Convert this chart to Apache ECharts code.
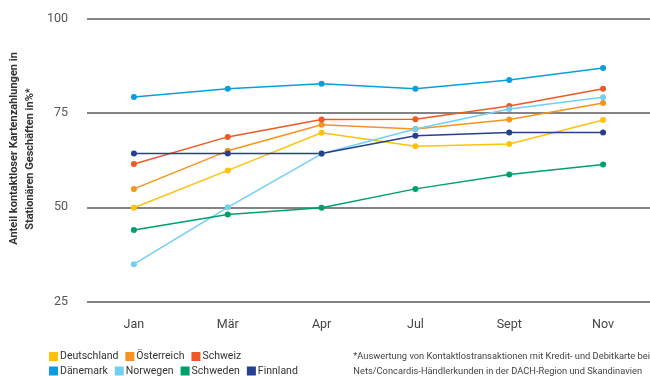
<!DOCTYPE html>
<html>
<head>
<meta charset="utf-8">
<script src="https://cdn.jsdelivr.net/npm/echarts@6/dist/echarts.min.js"></script>
<style>
  html, body { margin: 0; padding: 0; background: #fff; }
  #chart { width: 650px; height: 376px; }
</style>
</head>
<body>
<div id="chart"></div>
<script>
const months = ['Jan', 'Mär', 'Apr', 'Jul', 'Sept', 'Nov']
const yTicks = [25, 50, 75, 100]

const deutschland = [49.9, 59.8, 69.8, 66.2, 66.8, 73.2]
const oesterreich = [54.9, 65.0, 71.9, 70.8, 73.3, 77.7]
const schweiz = [61.5, 68.7, 73.3, 73.4, 76.9, 81.5]
const daenemark = [79.3, 81.5, 82.8, 81.5, 83.8, 87.0]
const norwegen = [34.9, 50.0, 64.2, 70.8, 76.1, 79.2]
const schweden = [44.0, 48.1, 49.9, 54.9, 58.7, 61.4]
const finnland = [64.3, 64.3, 64.3, 69.0, 69.9, 69.9]

const seriesNames = ['Deutschland', 'Österreich', 'Schweiz', 'Dänemark', 'Norwegen', 'Schweden', 'Finnland']
const seriesData = [deutschland, oesterreich, schweiz, daenemark, norwegen, schweden, finnland]
const colors = ['#fdc20f', '#f7931e', '#ef5a24', '#0a9ee0', '#72cff4', '#00a06b', '#263f8f']

const yTitle = ['Anteil kontaktloser Kartenzahlungen in', 'Stationären Geschäften in%*']

const font = 'Roboto, "Open Sans", sans-serif'

const chart = echarts.init(document.getElementById('chart'))

const legendBase = {
    left: 49,
    padding: 0,
    itemWidth: 9,
    itemHeight: 9,
    itemGap: 7,
    icon: 'rect',
    textStyle: { fontFamily: font, fontSize: 10.5, color: '#333', padding: [0, 0, 0, -3] },
    selectedMode: false
}

// y-axis title, two rotated lines
const titleStyle = { fontFamily: font, fontSize: 11, fontWeight: 'bold', fill: '#333' }

chart.setOption({
    animation: false,
    color: colors,
    grid: { left: 87, right: -1, top: 19, bottom: 74.5 },
    legend: [
        Object.assign({}, legendBase, { top: 351, data: seriesNames.slice(0, 3) }),
        Object.assign({}, legendBase, { top: 365.5, data: seriesNames.slice(3) })
    ],
    graphic: [
        {
            type: 'text',
            x: 14, y: 148.5,
            rotation: Math.PI / 2,
            style: Object.assign({ text: yTitle[0], align: 'center', verticalAlign: 'middle' }, titleStyle)
        },
        {
            type: 'text',
            x: 30, y: 159,
            rotation: Math.PI / 2,
            style: Object.assign({ text: yTitle[1], align: 'center', verticalAlign: 'middle' }, titleStyle)
        },
        {
            type: 'text',
            right: 0,
            top: 349,
            style: {
                text: '*Auswertung von Kontaktlostransaktionen mit Kredit- und Debitkarte bei\nNets/Concardis-Händlerkunden in der DACH-Region und Skandinavien',
                fontFamily: font,
                fontSize: 9.3,
                fill: '#444',
                align: 'right',
                lineHeight: 15
            }
        }
    ],
    xAxis: {
        type: 'category',
        data: months,
        boundaryGap: true,
        axisLine: { show: false },
        axisTick: { show: false },
        axisLabel: { fontFamily: font, fontSize: 12.5, color: '#444', margin: 17 }
    },
    yAxis: {
        type: 'value',
        min: yTicks[0],
        max: yTicks[yTicks.length - 1],
        interval: 25,
        axisLine: { show: false },
        axisTick: { show: false },
        axisLabel: { fontFamily: font, fontSize: 12.5, color: '#555', margin: 19 },
        splitLine: { lineStyle: { color: '#5a5a5a', width: 1.5 } }
    },
    series: seriesNames.map((name, i) => ({
        name: name,
        type: 'line',
        data: seriesData[i],
        symbol: 'circle',
        symbolSize: 6,
        lineStyle: { width: 1.5, color: colors[i] },
        itemStyle: { color: colors[i] }
    }))
})
</script>
</body>
</html>
